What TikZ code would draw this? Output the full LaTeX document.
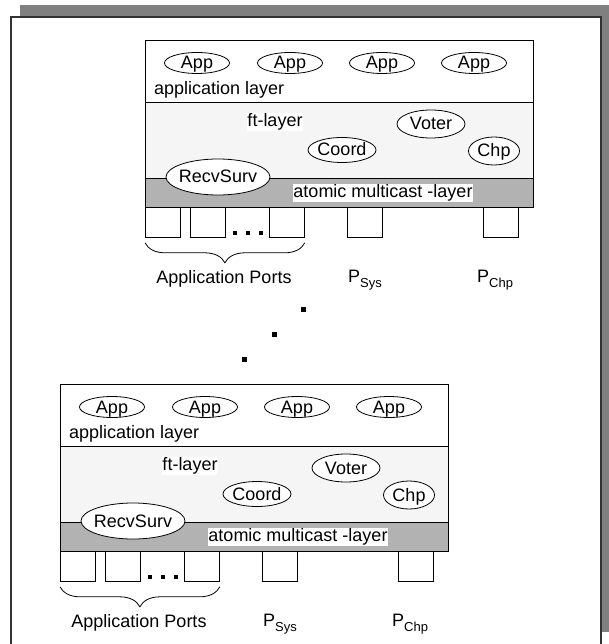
\documentclass[tikz,border=0pt]{standalone}
\usepackage{fontspec}
\setmainfont{Liberation Sans}
\usetikzlibrary{shapes.geometric,decorations.pathreplacing}
\begin{document}
\begin{tikzpicture}[x=1pt,y=-1pt,
  every node/.style={font=\fontsize{18}{20}\selectfont},
  proc/.style={ellipse, draw, fill=white, inner ysep=0pt, inner xsep=-4pt, text height=13pt, text depth=1pt, line width=0.8pt},
  layerbox/.style={rectangle, draw, line width=0.8pt, inner sep=0pt, anchor=north west, minimum width=388pt},
  port/.style={rectangle, draw, fill=white, line width=0.8pt, inner sep=0pt, anchor=north west, minimum width=35pt, minimum height=30pt},
  lbl/.style={fill=white, inner sep=0.5pt},
  dotsq/.style={rectangle, fill=black, inner sep=0pt, minimum size=#1},
  dotsq/.default=4pt,
  stack/.pic={
    \node[layerbox, fill=white, minimum height=62pt] (-applayer) at (0,0) {};
    \node[layerbox, fill=black!4, minimum height=76pt] (-ftlayer) at (0,62) {};
    \node[layerbox, fill=black!30, minimum height=29pt] (-mclayer) at (0,138) {};
    \node[proc, minimum width=65pt, minimum height=21pt] (-a1) at (52,23) {App};
    \node[proc, minimum width=65pt, minimum height=21pt] (-a2) at (145,23) {App};
    \node[proc, minimum width=65pt, minimum height=21pt] (-a3) at (237,23) {App};
    \node[proc, minimum width=65pt, minimum height=21pt] (-a4) at (329,23) {App};
    \node[anchor=west, inner sep=0pt] (-al) at (9,50) {application layer};
    \node[lbl] (-ftl) at (130,82) {ft-layer};
    \node[proc, minimum width=68pt, minimum height=28pt] (-voter) at (286,84) {Voter};
    \node[proc, minimum width=68pt, minimum height=25pt] (-coord) at (197,110) {Coord};
    \node[proc, minimum width=51pt, minimum height=28pt] (-chp) at (349,111) {Chp};
    \node[proc, minimum width=104pt, minimum height=36pt] (-recv) at (73,137) {RecvSurv};
    \node[lbl] (-mcl) at (238,153) {atomic multicast -layer};
    \node[port] (-p1) at (0,167) {};
    \node[port] (-p2) at (45,167) {};
    \node[port] (-p3) at (124,167) {};
    \node[port] (-psys) at (202,167) {};
    \node[port] (-pchp) at (338,167) {};
    \node[dotsq] (-d1) at (90,193) {};
    \node[dotsq] (-d2) at (103,193) {};
    \node[dotsq] (-d3) at (116,193) {};
    \draw[decorate, decoration={brace, mirror, amplitude=20pt}, line width=0.8pt]
      ([yshift=-5pt]-p1.south west) -- ([yshift=-5pt]-p3.south east);
    \node[anchor=base] (-apl) at (79,243) {Application Ports};
    \node[anchor=base west, inner sep=0pt] (-psl) at (203,242) {P\raisebox{-5pt}{\fontsize{13}{13}\selectfont Sys}};
    \node[anchor=base west, inner sep=0pt] (-pcl) at (332,242) {P\raisebox{-5pt}{\fontsize{13}{13}\selectfont Chp}};
  }
]
\useasboundingbox (0,0) rectangle (609,644);
\fill[black!50] (20,5) rectangle (609,632);
\draw[fill=white, line width=1.5pt, draw=black!80] (11,17) rectangle (601,660);
\pic (T) at (145,40) {stack};
\pic (B) at (60,384) {stack};
\node[dotsq=5pt] (m1) at (303,309) {};
\node[dotsq=5pt] (m2) at (274,334) {};
\node[dotsq=5pt] (m3) at (244,359) {};
\end{tikzpicture}
\end{document}
